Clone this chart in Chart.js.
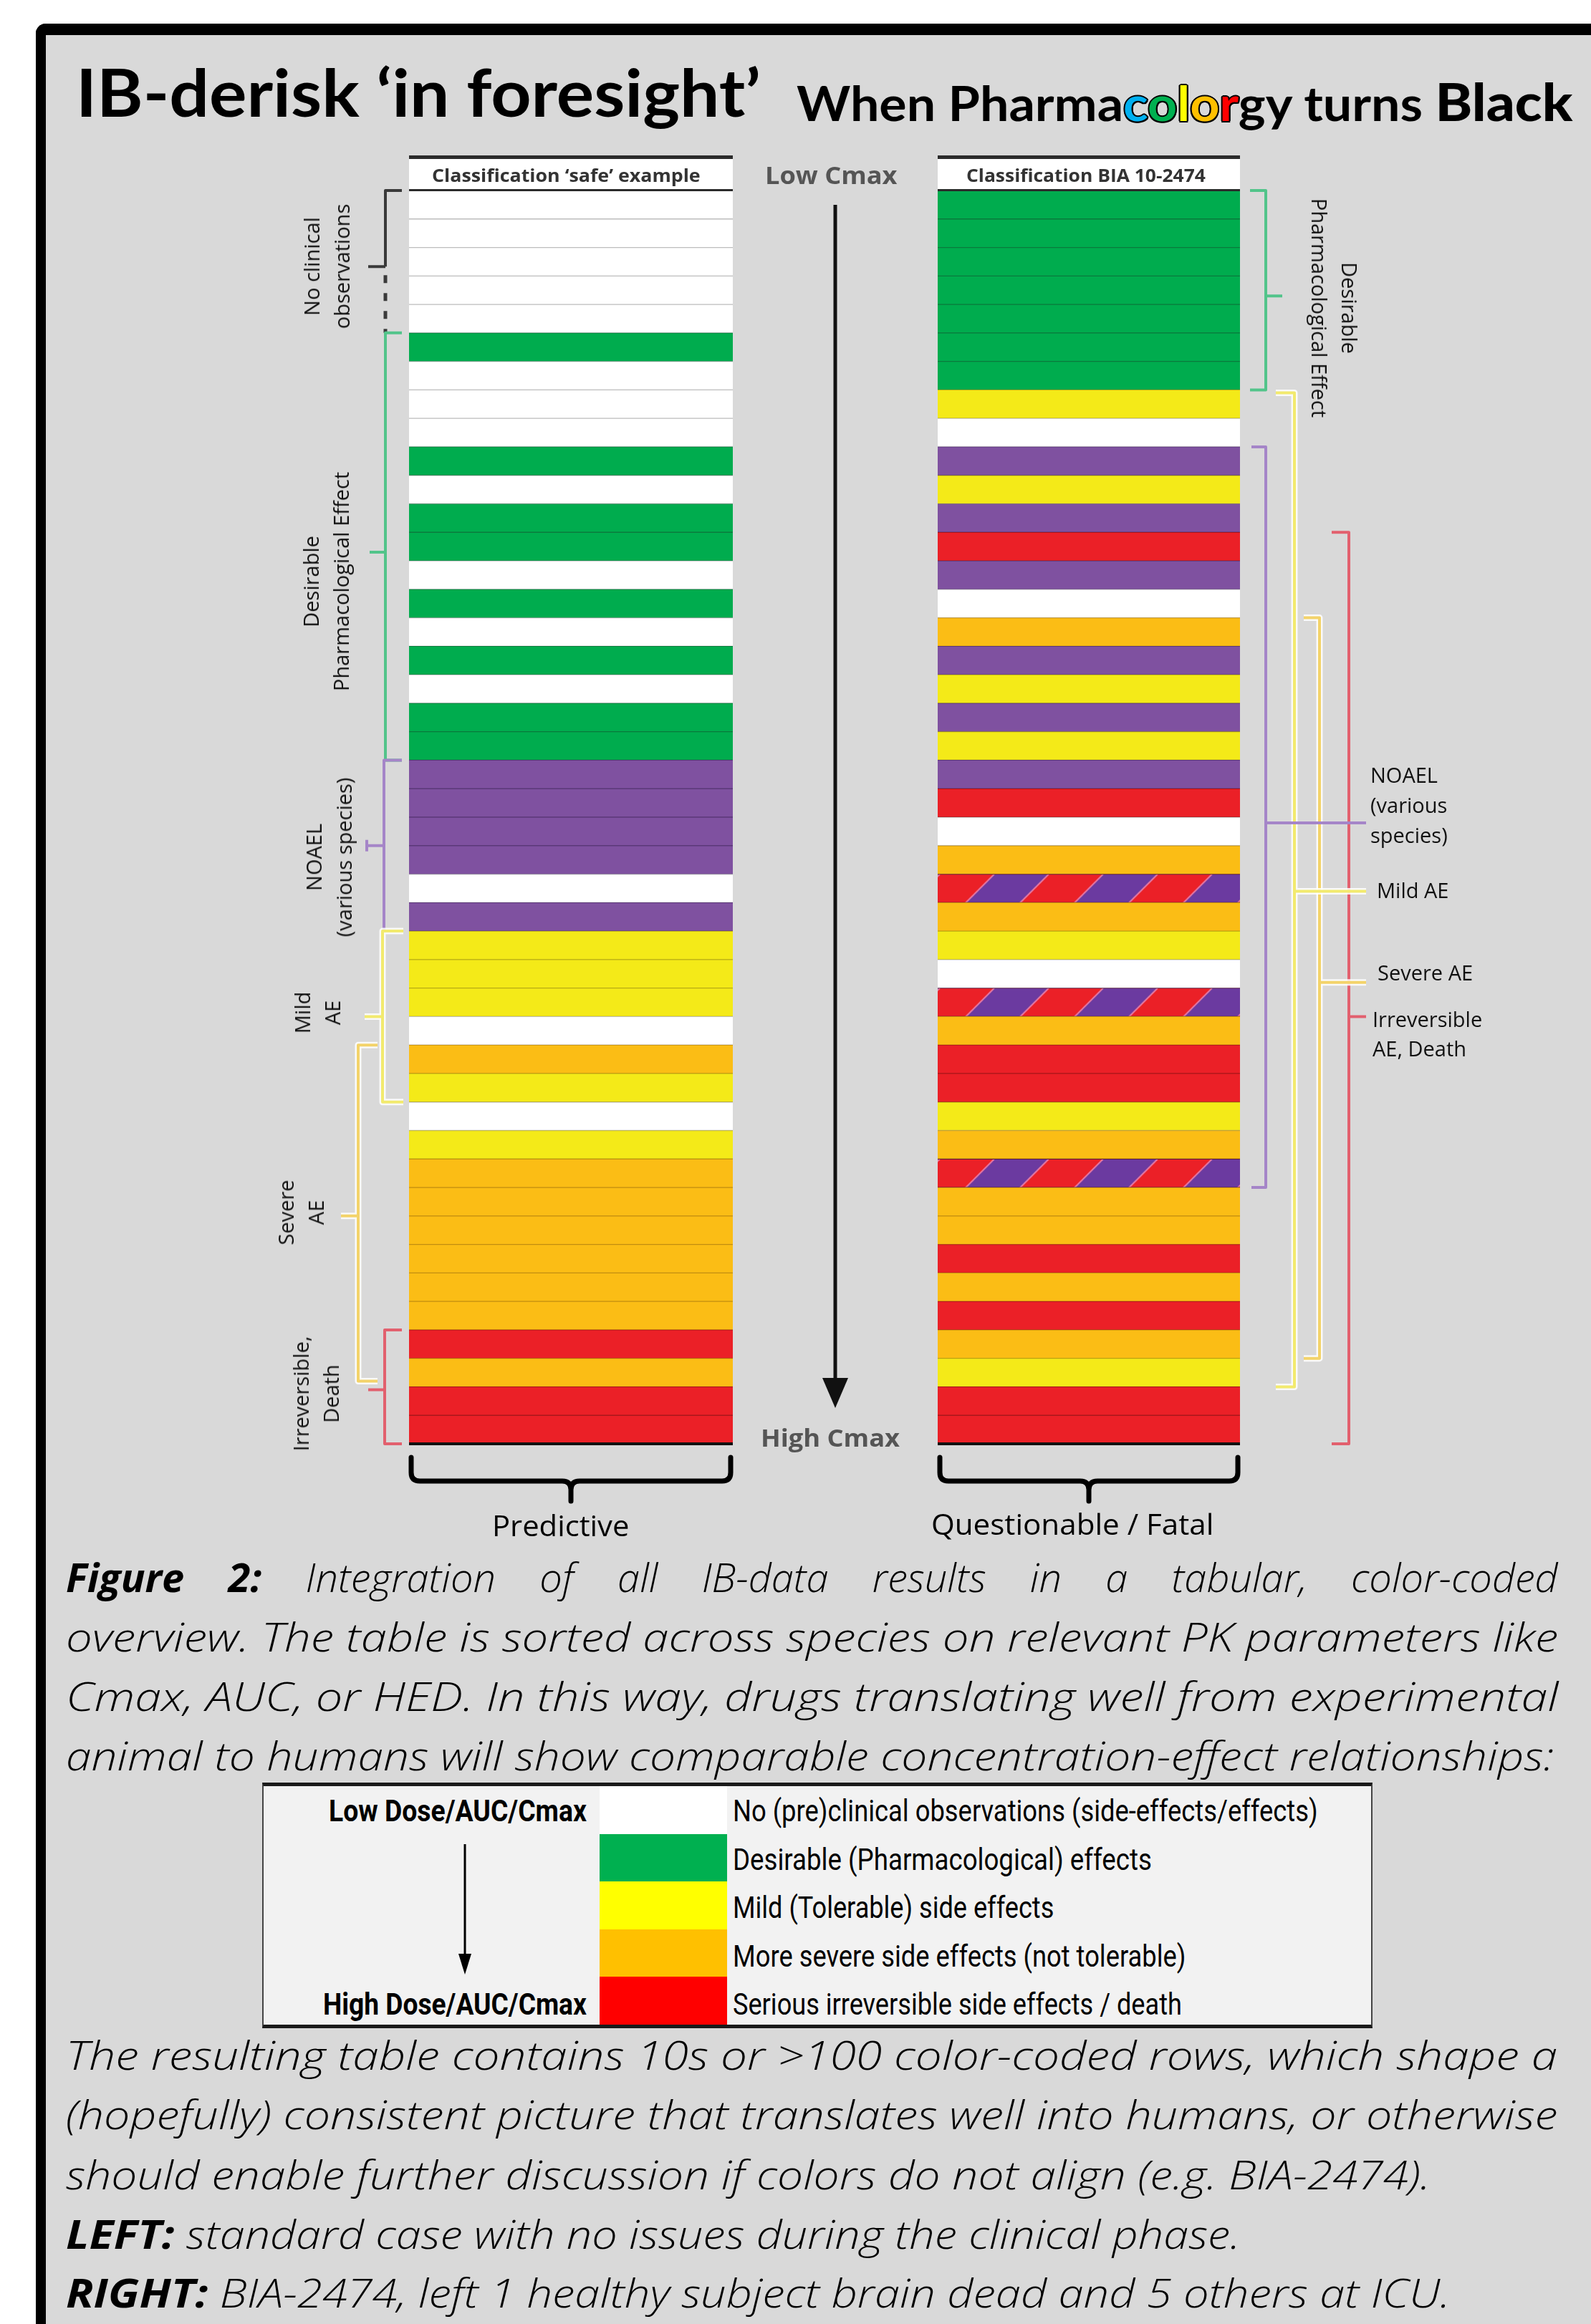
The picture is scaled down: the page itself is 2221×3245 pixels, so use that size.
<!DOCTYPE html>
<html>
<head>
<meta charset="utf-8">
<script src="https://cdn.jsdelivr.net/npm/chart.js@4.4.0/dist/chart.umd.min.js"></script>
<style>
html, body { margin: 0; padding: 0; background: #fff; }
body { width: 2221px; height: 3245px; position: relative; overflow: hidden; }
#frame { position: absolute; left: 50px; top: 33px; width: 2171px; height: 3212px; box-sizing: border-box;
         border-top: 16px solid #000; border-left: 14px solid #000; border-top-left-radius: 14px; background: #d9d9d9; }
#chart { position: absolute; left: 0; top: 0; }
.t { position: absolute; display: inline-block; white-space: nowrap; line-height: 1; transform-origin: 0 0; color: #000; }
.rot { position: absolute; white-space: nowrap; text-align: center; font-family: 'Open Sans'; font-size: 29px; line-height: 42px; color: #111; }
.lab { position: absolute; white-space: nowrap; font-family: 'Open Sans'; font-size: 29px; line-height: 42px; color: #111; }
.cap { font-family: 'Open Sans'; font-style: italic; font-weight: 300; font-size: 56px; }
.cap b { font-weight: 700; }
.leg { font-family: Roboto; font-size: 42px; }
.ol { text-shadow: -2px 0 #000, 2px 0 #000, 0 -2px #000, 0 2px #000, -1.5px -1.5px #000, 1.5px 1.5px #000, -1.5px 1.5px #000, 1.5px -1.5px #000; }
#legend { position: absolute; left: 366px; top: 2489px; width: 1550px; height: 343px; box-sizing: border-box;
          background: #f2f2f2; border-top: 5px solid #1a1a1a; border-bottom: 5px solid #1a1a1a; border-left: 2px solid #444; border-right: 2px solid #444; }
.sw { position: absolute; width: 178px; }
</style>
</head>
<body>
<div id="frame"></div>
<canvas id="chart" width="2221" height="2200"></canvas>

<div class="t" style="left:106px;top:82px;font-family:Lato;font-weight:700;font-size:92px" data-w="956">IB-derisk ‘in foresight’</div>
<div class="t" style="left:1112px;top:105px;font-family:Lato;font-weight:700;font-size:66px" data-w="1083">When Pharma<span class="ol" style="color:#00b0f0">c</span><span class="ol" style="color:#00b050">o</span><span class="ol" style="color:#ffff00">l</span><span class="ol" style="color:#ffc000">o</span><span class="ol" style="color:#ff0000">r</span>gy turns <span style="font-family:Lato;font-weight:900;font-size:72px">Black</span></div>

<div class="t" style="left:603px;top:232px;font-family:'Open Sans';font-weight:700;font-size:25px;color:#333" data-w="375">Classification ‘safe’ example</div>
<div class="t" style="left:1349px;top:232px;font-family:'Open Sans';font-weight:700;font-size:25px;color:#333" data-w="334">Classification BIA 10-2474</div>
<div class="t" style="left:1068px;top:227px;font-family:'Open Sans';font-weight:700;font-size:34px;color:#555" data-w="184">Low Cmax</div>
<div class="t" style="left:1062px;top:1990px;font-family:'Open Sans';font-weight:700;font-size:34px;color:#555" data-w="194">High Cmax</div>
<div class="t" style="left:687px;top:2110px;font-family:'Open Sans';font-size:40px" data-w="191">Predictive</div>
<div class="t" style="left:1300px;top:2108px;font-family:'Open Sans';font-size:40px" data-w="394">Questionable / Fatal</div>

<div class="rot" style="left:456px;top:372px;transform:translate(-50%,-50%) rotate(-90deg)">No clinical<br>observations</div>
<div class="rot" style="left:455px;top:812px;transform:translate(-50%,-50%) rotate(-90deg)">Desirable<br>Pharmacological Effect</div>
<div class="rot" style="left:459px;top:1197px;transform:translate(-50%,-50%) rotate(-90deg)">NOAEL<br>(various species)</div>
<div class="rot" style="left:443px;top:1414px;transform:translate(-50%,-50%) rotate(-90deg)">Mild<br>AE</div>
<div class="rot" style="left:420px;top:1693px;transform:translate(-50%,-50%) rotate(-90deg)">Severe<br>AE</div>
<div class="rot" style="left:441px;top:1946px;transform:translate(-50%,-50%) rotate(-90deg)">Irreversible,<br>Death</div>
<div class="rot" style="left:1863px;top:430px;transform:translate(-50%,-50%) rotate(90deg)">Desirable<br>Pharmacological Effect</div>

<div class="lab" style="left:1913px;top:1061px">NOAEL<br>(various<br>species)</div>
<div class="lab" style="left:1922px;top:1222px">Mild AE</div>
<div class="lab" style="left:1923px;top:1337px">Severe AE</div>
<div class="lab" style="left:1916px;top:1402px;line-height:41px">Irreversible<br>AE, Death</div>

<div class="t cap" style="left:92px;top:2173px" data-w="2083" data-mode="space"><b>Figure 2:</b> Integration of all IB-data results in a tabular, color-coded</div>
<div class="t cap" style="left:92px;top:2256px" data-w="2083">overview. The table is sorted across species on relevant PK parameters like</div>
<div class="t cap" style="left:92px;top:2339px" data-w="2083">Cmax, AUC, or HED. In this way, drugs translating well from experimental</div>
<div class="t cap" style="left:92px;top:2422px" data-w="2077">animal to humans will show comparable concentration-effect relationships:</div>

<div id="legend"></div>
<div class="t leg" style="left:459px;top:2508px;font-weight:700" data-w="360">Low Dose/AUC/Cmax</div>
<div class="t leg" style="left:451px;top:2778px;font-weight:700" data-w="368">High Dose/AUC/Cmax</div>
<svg style="position:absolute;left:630px;top:2570px" width="40" height="195">
  <line x1="19" y1="5" x2="19" y2="165" stroke="#000" stroke-width="3"/>
  <polygon points="10,158 28,158 19,187" fill="#000"/>
</svg>

<div class="t cap" style="left:92px;top:2840px" data-w="2082">The resulting table contains 10s or &gt;100 color-coded rows, which shape a</div>
<div class="t cap" style="left:92px;top:2923px" data-w="2082">(hopefully) consistent picture that translates well into humans, or otherwise</div>
<div class="t cap" style="left:92px;top:3007px" data-w="1905">should enable further discussion if colors do not align (e.g. BIA-2474).</div>
<div class="t cap" style="left:92px;top:3090px" data-w="1639"><b>LEFT:</b> standard case with no issues during the clinical phase.</div>
<div class="t cap" style="left:92px;top:3172px" data-w="1933"><b>RIGHT:</b> BIA-2474, left 1 healthy subject brain dead and 5 others at ICU.</div>

<script>
// row classes, top (low Cmax) to bottom (high Cmax)
// W none, G desirable, P NOAEL, Y mild, O severe, R irreversible, H red/purple mixed
const leftRows = ['W','W','W','W','W', 'G','W','W','W','G', 'W','G','G','W','G', 'W','G','W','G','G',
                  'P','P','P','P','W', 'P','Y','Y','Y','W', 'O','Y','W','Y','O', 'O','O','O','O','O',
                  'R','O','R','R'];
const rightRows = ['G','G','G','G','G', 'G','G','Y','W','P', 'Y','P','R','P','W', 'O','P','Y','P','Y',
                   'P','R','W','O','H', 'O','Y','W','H','O', 'R','R','Y','O','H', 'O','O','R','O','R',
                   'O','Y','R','R'];
const rowLabels = leftRows.map((_, i) => 'row ' + (i + 1));

const legendLabels = ['No (pre)clinical observations (side-effects/effects)', 'Desirable (Pharmacological) effects',
                      'Mild (Tolerable) side effects', 'More severe side effects (not tolerable)',
                      'Serious irreversible side effects / death'];
const legendColors = ['#ffffff', '#00b050', '#ffff00', '#ffc000', '#ff0000'];
const legendWidths = [817, 585, 448, 632, 627];

// layout
const LEFT_SPAN = [0, 452];
const RIGHT_SPAN = [738, 1160];
const fills = { W: '#ffffff', G: '#00ac4e', P: '#7f51a0', Y: '#f4ea18', O: '#fbbd15', R: '#eb2027' };
const lines = { W: '#bdbdbd', G: '#0b7a3d', P: '#5b3878', Y: '#b8ad14', O: '#c28e10', R: '#a8161b', H: '#5a1a40' };

// red / purple diagonal tile
const tile = document.createElement('canvas');
(function () {
    const s = 152;
    tile.width = tile.height = s;
    const g = tile.getContext('2d');
    g.fillStyle = '#eb2027';
    g.fillRect(0, 0, s, s);
    g.fillStyle = '#6b3aa0';
    for (let k = -1; k <= 1; k++) {
        const c1 = 76 + s * k, c2 = s + s * k;
        g.beginPath();
        g.moveTo(c1, 0); g.lineTo(c2, 0); g.lineTo(c2 - s, s); g.lineTo(c1 - s, s);
        g.closePath(); g.fill();
    }
    g.strokeStyle = '#e67aa6';
    g.lineWidth = 2;
    for (let k = -2; k <= 4; k++) {
        g.beginPath(); g.moveTo(76 * k, 0); g.lineTo(76 * k - s, s); g.stroke();
    }
})();

// each mixed row starts its stripes at its own top edge
function rowFill(rows) {
    return function (c) {
        const k = rows[c.dataIndex];
        if (k !== 'H') return fills[k];
        const a = c.chart.chartArea;
        if (!a) return fills.R;
        const rh = (a.bottom - a.top) / rows.length;
        const p = c.chart.ctx.createPattern(tile, 'repeat');
        p.setTransform(new DOMMatrix([1, 0, 0, 1, c.chart.scales.x.getPixelForValue(RIGHT_SPAN[0]) + 3, a.top + c.dataIndex * rh]));
        return p;
    };
}

// brackets: rows in edge units (0 = top of first row)
const leftBrackets = [
    { from: 0, to: 5, x: 538, tick: 561, mid: 2.67, midX: 514, color: '#3a3a3a', dashFrom: 2.67 },
    { from: 5, to: 20, x: 538, tick: 561, mid: 12.7, midX: 516, color: '#52c48a' },
    { from: 20, to: 26, x: 536, tick: 561, mid: 23, midX: 512, color: '#a585c8', tee: true },
    { from: 30, to: 41.8, x: 500, tick: 527, mid: 36, midX: 476, color: '#f3d36a', glow: true },
    { from: 26, to: 32, x: 534, tick: 563, mid: 29, midX: 509, color: '#f2ea6e', glow: true },
    { from: 40, to: 44, x: 537, tick: 561, mid: 42.1, midX: 514, color: '#e2606e' }
];
const rightBrackets = [
    { from: 0, to: 7, x: 1767, tick: 1745, mid: 3.7, midX: 1790, color: '#52c48a' },
    { from: 12, to: 44, x: 1883, tick: 1859, mid: 29, midX: 1907, color: '#e2606e' },
    { from: 15, to: 41, x: 1842, tick: 1820, mid: 27.8, midX: 1907, color: '#f3d36a', glow: true },
    { from: 7.1, to: 42, x: 1807, tick: 1781, mid: 24.6, midX: 1907, color: '#f2ea6e', glow: true },
    { from: 9, to: 35, x: 1767, tick: 1747, mid: 22.2, midX: 1907, color: '#a585c8' }
];

function drawBracket(ctx, b, ey) {
    const y0 = ey(b.from), y1 = ey(b.to), ym = ey(b.mid);
    const path = () => {
        ctx.beginPath();
        ctx.moveTo(b.tick, y0); ctx.lineTo(b.x, y0);
        if (b.dashFrom !== undefined) {
            ctx.lineTo(b.x, ey(b.dashFrom));
        } else {
            ctx.lineTo(b.x, y1); ctx.lineTo(b.tick, y1);
        }
        ctx.moveTo(b.x, ym); ctx.lineTo(b.midX, ym);
        if (b.tee) { ctx.moveTo(b.midX, ym - 8); ctx.lineTo(b.midX, ym + 8); }
        ctx.stroke();
    };
    ctx.setLineDash([]);
    if (b.glow) {
        ctx.strokeStyle = 'rgba(255,255,255,0.85)';
        ctx.lineWidth = 9;
        path();
    }
    ctx.strokeStyle = b.color;
    ctx.lineWidth = 4;
    path();
    if (b.dashFrom !== undefined) {
        ctx.setLineDash([11, 14]);
        ctx.lineWidth = 5;
        ctx.beginPath(); ctx.moveTo(b.x, ey(b.dashFrom) + 12); ctx.lineTo(b.x, y1); ctx.stroke();
        ctx.setLineDash([]);
    }
}

function brace(ctx, l, r, yb) {
    const y0 = yb + 19, y1 = yb + 52, y2 = yb + 80, m = (l + r) / 2, rad = 12;
    l += 3; r -= 3;
    ctx.beginPath();
    ctx.moveTo(l, y0); ctx.lineTo(l, y1 - rad); ctx.quadraticCurveTo(l, y1, l + rad, y1);
    ctx.lineTo(m - rad, y1); ctx.quadraticCurveTo(m, y1, m, y1 + rad); ctx.lineTo(m, y2);
    ctx.moveTo(m, y1 + rad); ctx.quadraticCurveTo(m, y1, m + rad, y1);
    ctx.lineTo(r - rad, y1); ctx.quadraticCurveTo(r, y1, r, y1 - rad); ctx.lineTo(r, y0);
    ctx.lineWidth = 7; ctx.strokeStyle = '#000'; ctx.lineCap = 'round'; ctx.lineJoin = 'round';
    ctx.stroke();
}

const overlay = {
    id: 'overlay',
    afterDraw(chart) {
        const ctx = chart.ctx, a = chart.chartArea, x = chart.scales.x;
        const rh = (a.bottom - a.top) / chart.data.labels.length;
        const ey = e => a.top + e * rh;
        ctx.save();
        [LEFT_SPAN, RIGHT_SPAN].forEach(s => {
            const l = x.getPixelForValue(s[0]), r = x.getPixelForValue(s[1]);
            ctx.fillStyle = '#fff'; ctx.fillRect(l, a.top - 44, r - l, 44);
            ctx.fillStyle = '#2b2b2b'; ctx.fillRect(l, a.top - 49, r - l, 5);
            ctx.fillRect(l, a.top - 2, r - l, 3);
            ctx.fillStyle = '#111'; ctx.fillRect(l, a.bottom - 2, r - l, 4);
            brace(ctx, l, r, a.bottom);
        });
        // Cmax arrow
        const xm = x.getPixelForValue((LEFT_SPAN[1] + RIGHT_SPAN[0]) / 2);
        ctx.strokeStyle = '#111'; ctx.lineWidth = 5; ctx.lineCap = 'butt';
        ctx.beginPath(); ctx.moveTo(xm, a.top + 20); ctx.lineTo(xm, a.bottom - 85); ctx.stroke();
        ctx.fillStyle = '#111';
        ctx.beginPath(); ctx.moveTo(xm - 18, a.bottom - 92); ctx.lineTo(xm + 18, a.bottom - 92); ctx.lineTo(xm, a.bottom - 50);
        ctx.closePath(); ctx.fill();
        ctx.lineCap = 'butt';
        leftBrackets.forEach(b => drawBracket(ctx, b, ey));
        rightBrackets.forEach(b => drawBracket(ctx, b, ey));
        ctx.restore();
    }
};

const barStyle = { borderWidth: { top: 1, bottom: 1, left: 0, right: 0 }, borderSkipped: false,
                   grouped: false, categoryPercentage: 1, barPercentage: 1 };

new Chart(document.getElementById('chart'), {
    type: 'bar',
    data: {
        labels: rowLabels,
        datasets: [
            Object.assign({ label: 'Classification safe example', data: leftRows.map(() => LEFT_SPAN),
                backgroundColor: rowFill(leftRows), borderColor: leftRows.map(k => lines[k]) }, barStyle),
            Object.assign({ label: 'Classification BIA 10-2474', data: rightRows.map(() => RIGHT_SPAN),
                backgroundColor: rowFill(rightRows), borderColor: rightRows.map(k => lines[k]) }, barStyle)
        ]
    },
    options: {
        indexAxis: 'y',
        responsive: false,
        animation: false,
        devicePixelRatio: 1,
        layout: { padding: { left: 571, right: 490, top: 266, bottom: 184 } },
        scales: {
            x: { type: 'linear', min: 0, max: 1160, display: false },
            y: { display: false }
        },
        plugins: { legend: { display: false }, tooltip: { enabled: false } }
    },
    plugins: [overlay]
});

// legend box
const legend = document.getElementById('legend');
legendColors.forEach((c, i) => {
    const sw = document.createElement('div');
    sw.className = 'sw';
    sw.style.left = (837 - 366 - 2) + 'px';
    sw.style.top = (i * 66.6) + 'px';
    sw.style.height = '67px';
    sw.style.background = c;
    legend.appendChild(sw);
    const t = document.createElement('div');
    t.className = 't leg';
    t.textContent = legendLabels[i];
    t.style.left = '1023px';
    t.style.top = (2508 + i * 67.5) + 'px';
    t.dataset.w = legendWidths[i];
    document.body.appendChild(t);
});

function fit() {
    document.querySelectorAll('[data-w]').forEach(el => {
        el.style.transform = '';
        el.style.wordSpacing = '';
        const w = el.offsetWidth, target = +el.dataset.w;
        if (el.dataset.mode === 'space') {
            const n = (el.textContent.match(/ /g) || []).length;
            if (w < target && n) { el.style.wordSpacing = ((target - w) / n) + 'px'; return; }
        }
        el.style.transform = 'scaleX(' + (target / w) + ')';
    });
}
fit();
document.fonts.ready.then(fit);
</script>
</body>
</html>
